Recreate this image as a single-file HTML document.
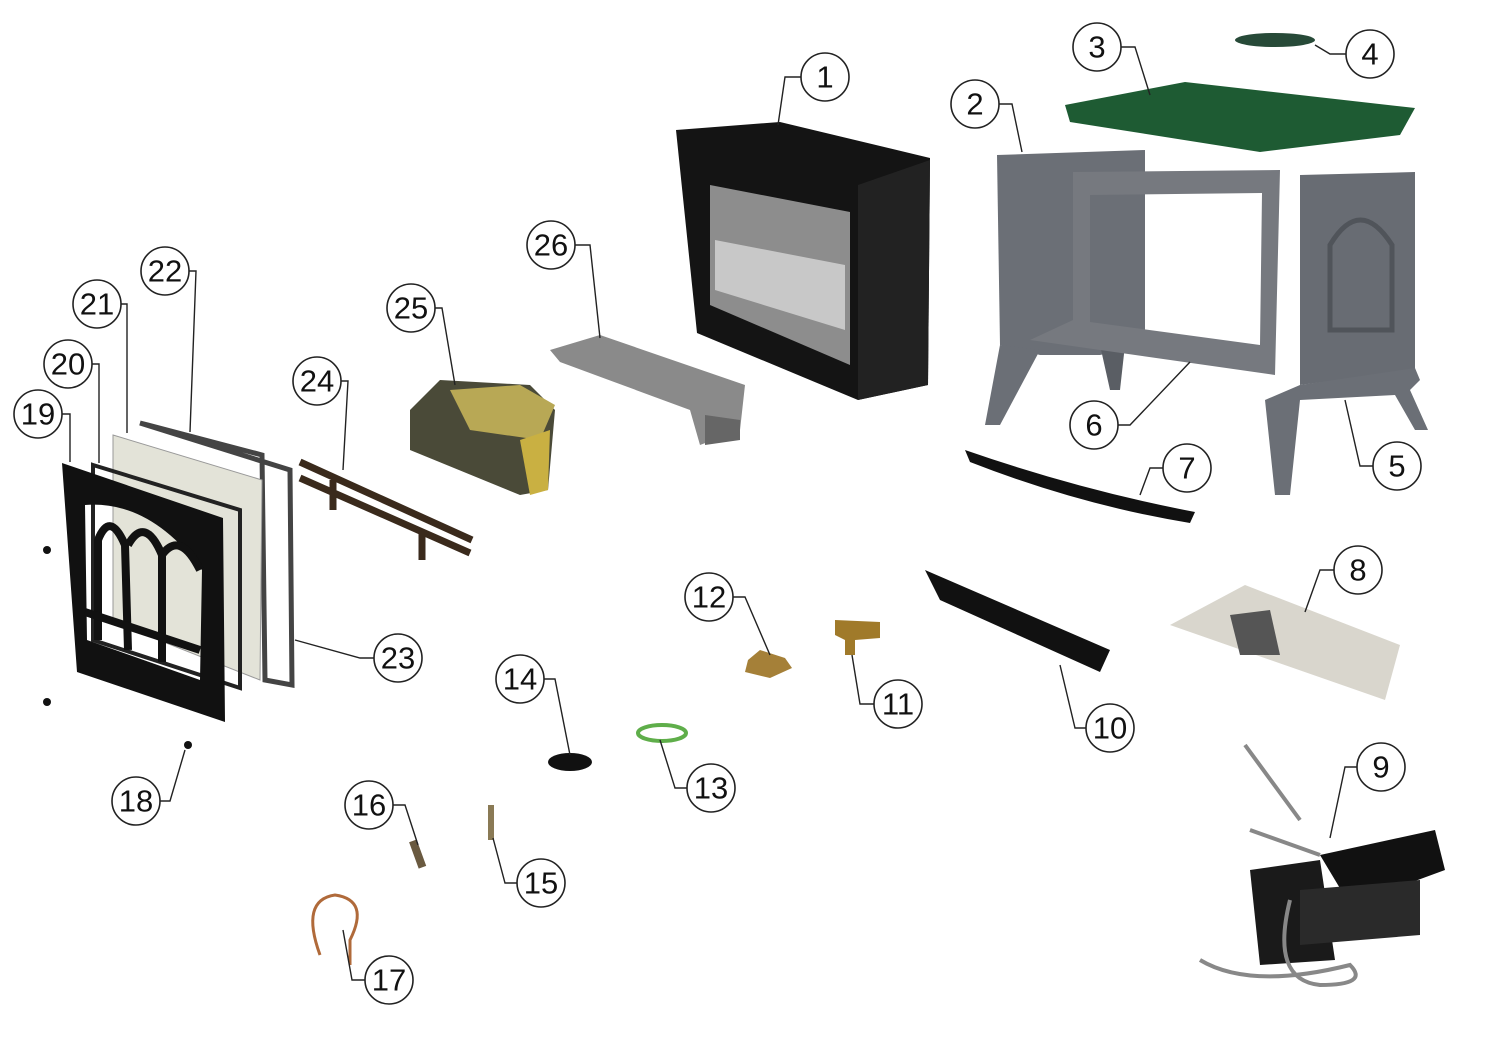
<!DOCTYPE html>
<html><head><style>
html,body{margin:0;padding:0;background:#fff;}
svg{display:block}
text{font-family:"Liberation Sans",sans-serif;font-size:31px;fill:#111;text-anchor:middle;dominant-baseline:central}
.c{fill:#fff;stroke:#222;stroke-width:1.6}
.l{fill:none;stroke:#222;stroke-width:1.4}
</style></head><body>
<svg width="1500" height="1037" viewBox="0 0 1500 1037">
<!-- Part 1 firebox -->
<polygon points="676,130 780,122 930,158 928,385 858,400 697,333" fill="#141414"/>
<polygon points="710,185 850,212 850,365 710,305" fill="#8d8d8d"/>
<polygon points="715,240 845,265 845,330 715,290" fill="#c8c8c8"/>
<polygon points="858,185 930,160 928,385 858,400" fill="#222"/>
<!-- Part 3 top -->
<polygon points="1065,105 1185,82 1415,108 1400,135 1260,152 1070,122" fill="#1e5b33"/>
<ellipse cx="1275" cy="40" rx="40" ry="7" fill="#274a38"/>
<!-- Part 2 side -->
<polygon points="997,155 1145,150 1145,345 1100,355 1040,355 1000,345" fill="#6b6f76"/>
<polygon points="1000,345 1040,350 1000,425 985,425" fill="#6b6f76"/>
<polygon points="1100,345 1125,345 1120,390 1110,390" fill="#5a5e64"/>
<!-- Part 6 frame -->
<path d="M1073,172 L1280,170 L1275,375 L1030,340 L1073,320 Z M1090,195 L1262,193 L1260,345 L1090,322 Z" fill="#76797f" fill-rule="evenodd"/>
<!-- Part 5 side -->
<polygon points="1300,175 1415,172 1415,370 1300,385" fill="#686c73"/>
<path d="M1330,330 L1330,245 Q1360,195 1392,245 L1392,330 Z" fill="none" stroke="#50545a" stroke-width="5"/>
<polygon points="1265,400 1300,385 1415,368 1420,380 1410,390 1428,430 1415,430 1395,395 1300,400 1290,495 1275,495" fill="#6b6f76"/>
<!-- Part 7 -->
<path d="M965,450 Q1080,490 1195,512 L1190,523 Q1080,505 970,462 Z" fill="#111"/>
<!-- Part 8 -->
<polygon points="1170,625 1245,585 1400,645 1385,700" fill="#d9d6cd"/>
<polygon points="1230,615 1270,610 1280,655 1240,655" fill="#555"/>
<!-- Part 9 -->
<polygon points="1320,855 1435,830 1445,870 1350,905" fill="#111"/>
<polygon points="1250,870 1320,860 1335,960 1260,965" fill="#1a1a1a"/>
<polygon points="1300,890 1420,880 1420,935 1300,945" fill="#2a2a2a"/>
<path d="M1245,745 L1300,820 M1250,830 L1320,855 M1290,900 Q1270,980 1320,985 Q1370,985 1350,965 Q1250,990 1200,960" fill="none" stroke="#888" stroke-width="4"/>
<!-- Part 10 -->
<polygon points="925,570 1110,650 1100,672 940,600" fill="#111"/>
<!-- 11, 12 -->
<polygon points="835,620 880,622 880,638 855,640 855,655 845,655 845,640 835,635" fill="#a07a2a"/>
<polygon points="748,660 760,650 785,658 792,668 770,678 745,672" fill="#a58038"/>
<!-- 13 -->
<ellipse cx="662" cy="733" rx="24" ry="8" fill="none" stroke="#5fae4a" stroke-width="4"/>
<!-- 14 -->
<ellipse cx="570" cy="762" rx="22" ry="9" fill="#111"/>
<!-- 15 16 17 -->
<rect x="488" y="805" width="6" height="35" fill="#8a7a55"/>
<rect x="414" y="840" width="8" height="28" fill="#6a5a40" transform="rotate(-20 418 855)"/>
<path d="M320,955 Q300,900 335,895 Q370,900 350,940 L350,965" fill="none" stroke="#b06a3a" stroke-width="3"/>
<!-- 18 dots -->
<circle cx="47" cy="550" r="4" fill="#111"/><circle cx="47" cy="702" r="4" fill="#111"/><circle cx="188" cy="745" r="4" fill="#111"/><circle cx="183" cy="597" r="4" fill="#111"/>
<!-- 22 gasket -->
<polygon points="140,423 290,470 292,685 265,680 262,455 148,425" fill="none" stroke="#444" stroke-width="5"/>
<!-- 21 glass -->
<polygon points="113,435 262,480 260,680 113,622" fill="#e3e3d8" stroke="#999"/>
<!-- 20 gasket -->
<polygon points="93,465 240,510 240,688 93,640" fill="none" stroke="#222" stroke-width="4"/>
<!-- 19 door -->
<path d="M62,463 L223,518 L225,722 L77,672 Z M85,505 L87,640 L200,680 L202,570 Q150,500 85,505 Z" fill="#111" fill-rule="evenodd"/>
<path d="M98,640 L98,540 Q110,510 125,545 L128,650 M128,545 Q145,515 162,555 L162,662 M162,555 Q180,530 200,570" fill="none" stroke="#111" stroke-width="8"/>
<path d="M85,612 L200,650" stroke="#111" stroke-width="8"/>
<!-- 24 grate -->
<path d="M300,462 L472,540 M300,478 L470,553 M333,480 L333,510 M422,530 L422,560" stroke="#3a2a1c" stroke-width="7"/>
<!-- 25 logs -->
<polygon points="410,410 440,380 530,385 555,410 548,490 520,495 410,450" fill="#4a4a38"/>
<polygon points="450,390 520,385 555,405 540,440 470,430" fill="#b8a855"/>
<polygon points="520,440 550,430 548,490 530,495" fill="#c9b042"/>
<!-- 26 burner -->
<polygon points="550,350 600,335 745,385 740,430 700,445 690,410 560,362" fill="#8a8a8a"/>
<polygon points="705,415 740,420 740,440 705,445" fill="#666"/>

<!-- leaders -->
<polyline class="l" points="802,77 785,77 778,125"/>
<polyline class="l" points="998,104 1012,104 1022,152"/>
<polyline class="l" points="1120,47 1135,47 1150,95"/>
<polyline class="l" points="1347,54 1330,54 1315,45"/>
<polyline class="l" points="1374,466 1360,466 1345,400"/>
<polyline class="l" points="1117,425 1130,425 1190,362"/>
<polyline class="l" points="1164,468 1150,468 1140,495"/>
<polyline class="l" points="1335,570 1320,570 1305,612"/>
<polyline class="l" points="1358,767 1345,767 1330,838"/>
<polyline class="l" points="1087,728 1075,728 1060,665"/>
<polyline class="l" points="875,704 860,704 852,655"/>
<polyline class="l" points="732,597 745,597 770,655"/>
<polyline class="l" points="688,788 675,788 660,740"/>
<polyline class="l" points="543,679 555,679 570,755"/>
<polyline class="l" points="518,883 505,883 493,838"/>
<polyline class="l" points="392,805 405,805 418,845"/>
<polyline class="l" points="366,980 352,980 343,930"/>
<polyline class="l" points="159,801 170,801 185,750"/>
<polyline class="l" points="61,414 70,414 70,462"/>
<polyline class="l" points="91,364 99,364 99,463"/>
<polyline class="l" points="120,304 127,304 127,433"/>
<polyline class="l" points="188,271 196,271 190,432"/>
<polyline class="l" points="375,658 360,658 295,640"/>
<polyline class="l" points="340,381 348,381 343,470"/>
<polyline class="l" points="434,308 442,308 455,385"/>
<polyline class="l" points="574,245 590,245 600,338"/>

<!-- circles -->
<g>
<circle class="c" cx="825" cy="77" r="24"/><text x="825" y="77">1</text>
<circle class="c" cx="975" cy="104" r="24"/><text x="975" y="104">2</text>
<circle class="c" cx="1097" cy="47" r="24"/><text x="1097" y="47">3</text>
<circle class="c" cx="1370" cy="54" r="24"/><text x="1370" y="54">4</text>
<circle class="c" cx="1397" cy="466" r="24"/><text x="1397" y="466">5</text>
<circle class="c" cx="1094" cy="425" r="24"/><text x="1094" y="425">6</text>
<circle class="c" cx="1187" cy="468" r="24"/><text x="1187" y="468">7</text>
<circle class="c" cx="1358" cy="570" r="24"/><text x="1358" y="570">8</text>
<circle class="c" cx="1381" cy="767" r="24"/><text x="1381" y="767">9</text>
<circle class="c" cx="1110" cy="728" r="24"/><text x="1110" y="728">10</text>
<circle class="c" cx="898" cy="704" r="24"/><text x="898" y="704">11</text>
<circle class="c" cx="709" cy="597" r="24"/><text x="709" y="597">12</text>
<circle class="c" cx="711" cy="788" r="24"/><text x="711" y="788">13</text>
<circle class="c" cx="520" cy="679" r="24"/><text x="520" y="679">14</text>
<circle class="c" cx="541" cy="883" r="24"/><text x="541" y="883">15</text>
<circle class="c" cx="369" cy="805" r="24"/><text x="369" y="805">16</text>
<circle class="c" cx="389" cy="980" r="24"/><text x="389" y="980">17</text>
<circle class="c" cx="136" cy="801" r="24"/><text x="136" y="801">18</text>
<circle class="c" cx="38" cy="414" r="24"/><text x="38" y="414">19</text>
<circle class="c" cx="68" cy="364" r="24"/><text x="68" y="364">20</text>
<circle class="c" cx="97" cy="304" r="24"/><text x="97" y="304">21</text>
<circle class="c" cx="165" cy="271" r="24"/><text x="165" y="271">22</text>
<circle class="c" cx="398" cy="658" r="24"/><text x="398" y="658">23</text>
<circle class="c" cx="317" cy="381" r="24"/><text x="317" y="381">24</text>
<circle class="c" cx="411" cy="308" r="24"/><text x="411" y="308">25</text>
<circle class="c" cx="551" cy="245" r="24"/><text x="551" y="245">26</text>
</g>
</svg>
</body></html>
